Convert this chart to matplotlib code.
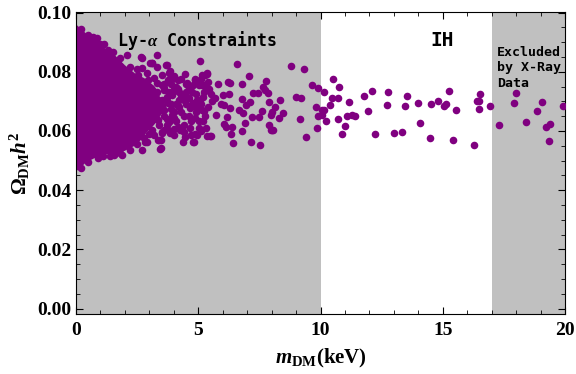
import matplotlib
matplotlib.use("Agg")
import matplotlib.pyplot as plt
from matplotlib.ticker import MultipleLocator

# dense core of the scan (outline of the solid purple region)
core_mass = [0.0, 0.4, 0.8, 1.2, 1.6, 2.0, 2.4, 2.8, 3.2, 3.4, 3.5, 3.4, 3.1,
             2.9, 2.7, 2.4, 2.0, 1.6, 1.2, 0.8, 0.4, 0.1, 0.0]
core_omega = [0.0960, 0.0930, 0.0912, 0.0878, 0.0855, 0.0822, 0.0795, 0.0778,
              0.0752, 0.0728, 0.0680, 0.0640, 0.0612, 0.0596, 0.0573, 0.0550,
              0.0533, 0.0522, 0.0521, 0.0510, 0.0493, 0.0470, 0.0463]

# individual scan points m_DM (keV), Omega h^2
mass = [
    # ragged edge of the core
    0.2, 0.5, 0.7, 1.0, 1.3, 1.5, 1.8, 2.2, 2.5, 2.9,
    0.2, 0.5, 0.9, 1.1, 1.4, 1.8, 2.2, 2.5, 2.8, 3.0,
    # crowded region 3-5.5 keV
    3.2, 3.5, 3.6, 3.9, 4.1, 4.3, 4.6, 4.8, 5.1, 5.4,
    3.3, 3.7, 4.0, 4.3, 4.6, 4.9, 5.2, 5.5,
    3.5, 3.9, 4.2, 4.5, 4.8, 5.1, 5.4,
    3.3, 3.6, 4.0, 4.3, 4.6, 4.9, 5.2,
    3.4, 3.8, 4.1, 4.4, 4.7, 5.1,
    3.2, 3.7, 4.0, 4.4, 4.7, 5.3,
    3.6, 3.8, 4.0, 4.2, 4.5, 3.5, 3.7, 4.1, 4.4, 3.6, 3.9, 4.2, 3.7, 4.0,
    3.3, 3.5, 4.5, 4.9,
    0.86, 1.14, 2.09, 2.70, 2.70, 3.11, 3.80, 3.93, 2.66, 3.10, 3.31, 3.72,
    2.55, 2.96, 3.99, 4.19, 4.88, 5.29, 5.36, 3.76, 3.31, 4.54, 5.01, 3.58,
    4.19, 4.74, 5.22, 3.92, 4.47, 4.95, 3.37, 3.78, 4.19, 4.67, 5.15, 3.51,
    3.92, 4.40, 4.88, 5.29, 3.37, 3.72, 4.19, 4.67, 3.10, 3.51, 3.99, 4.47,
    4.95, 4.81, 3.37, 2.90, 5.36, 1.54, 1.89, 2.70, 2.84, 3.46, 3.46, 3.52,
    4.37, 5.49, 3.03, 3.85, 5.15, 5.08, 5.22, 5.01, 5.01, 4.26, 3.85, 3.58,
    3.33, 5.05, 6.57, 7.06, 3.69, 4.44, 4.85, 5.14, 5.34, 7.76, 6.20, 6.28,
    5.79, 6.77, 5.22, 7.64, 7.72, 5.42, 7.23, 7.43, 7.84, 6.00, 6.24, 6.77,
    5.55, 5.67, 7.10, 7.88, 5.91, 6.04, 6.94, 6.28, 6.65, 7.59, 8.00, 7.96,
    6.82, 5.71, 7.18, 7.47, 6.16, 6.90, 6.04, 6.12, 6.36, 7.88, 7.96, 8.05,
    6.77, 6.32, 5.50, 7.14, 7.51, 6.41, 4.77, 3.41, 3.44, 4.85,
    8.80, 9.32, 9.64, 9.89, 10.50, 10.75, 10.14, 9.00, 9.21, 8.33, 10.46,
    10.71, 11.16, 11.77, 12.10, 12.76, 12.72, 11.94, 10.37, 9.81, 10.05,
    10.14, 9.89, 10.05, 10.22, 10.71, 11.08, 11.28, 11.41, 11.00, 9.85, 9.15,
    10.87, 12.23, 9.40, 8.45, 8.29, 8.13, 8.02,
    13.54, 13.45, 13.99, 14.52, 14.81, 15.05, 15.13, 15.26, 15.55, 16.53,
    16.41, 16.49, 16.49, 16.94, 14.07, 13.00, 13.33, 14.48, 15.42, 16.28,
    17.31, 18.00, 17.92, 19.07, 18.86, 19.93, 18.41, 19.23, 19.39, 19.36,
]
omega = [
    0.0945, 0.0925, 0.0918, 0.0895, 0.0875, 0.0868, 0.0845, 0.0815, 0.0808,
    0.0795,
    0.0475, 0.0495, 0.0508, 0.0515, 0.0515, 0.0525, 0.0535, 0.0555, 0.0575,
    0.0590,
    0.0780, 0.0790, 0.0760, 0.0760, 0.0750, 0.0775, 0.0745, 0.0755, 0.0775,
    0.0765,
    0.0730, 0.0715, 0.0735, 0.0720, 0.0710, 0.0725, 0.0715, 0.0725,
    0.0685, 0.0690, 0.0705, 0.0690, 0.0695, 0.0690, 0.0680,
    0.0660, 0.0650, 0.0665, 0.0665, 0.0650, 0.0665, 0.0635,
    0.0620, 0.0630, 0.0635, 0.0620, 0.0635, 0.0600,
    0.0585, 0.0605, 0.0605, 0.0595, 0.0585, 0.0610,
    0.0745, 0.0730, 0.0750, 0.0730, 0.0730, 0.0705, 0.0700, 0.0690, 0.0705,
    0.0670, 0.0675, 0.0680, 0.0640, 0.0645, 0.0700, 0.0755, 0.0760, 0.0680,
    0.0913, 0.0893, 0.0855, 0.0845, 0.0814, 0.0831, 0.0797, 0.0774, 0.0850,
    0.0830, 0.0816, 0.0823, 0.0790, 0.0773, 0.0784, 0.0771, 0.0773, 0.0790,
    0.0796, 0.0771, 0.0762, 0.0762, 0.0756, 0.0739, 0.0742, 0.0733, 0.0733,
    0.0722, 0.0717, 0.0705, 0.0705, 0.0694, 0.0683, 0.0677, 0.0672, 0.0672,
    0.0655, 0.0649, 0.0643, 0.0649, 0.0638, 0.0621, 0.0615, 0.0610, 0.0604,
    0.0593, 0.0587, 0.0581, 0.0587, 0.0561, 0.0570, 0.0564, 0.0583, 0.0519,
    0.0519, 0.0536, 0.0564, 0.0542, 0.0570, 0.0598, 0.0564, 0.0583, 0.0830,
    0.0801, 0.0755, 0.0704, 0.0666, 0.0632, 0.0610, 0.0604, 0.0593, 0.0604,
    0.0857, 0.0836, 0.0826, 0.0786, 0.0823, 0.0792, 0.0776, 0.0789, 0.0792,
    0.0769, 0.0765, 0.0762, 0.0759, 0.0759, 0.0755, 0.0748, 0.0738, 0.0742,
    0.0728, 0.0728, 0.0728, 0.0721, 0.0725, 0.0708, 0.0701, 0.0711, 0.0698,
    0.0698, 0.0691, 0.0687, 0.0687, 0.0677, 0.0671, 0.0667, 0.0664, 0.0654,
    0.0660, 0.0654, 0.0647, 0.0647, 0.0647, 0.0626, 0.0623, 0.0613, 0.0613,
    0.0620, 0.0603, 0.0603, 0.0599, 0.0589, 0.0582, 0.0562, 0.0552, 0.0559,
    0.0562, 0.0569, 0.0538, 0.0589,
    0.0819, 0.0809, 0.0755, 0.0745, 0.0775, 0.0748, 0.0731, 0.0714, 0.0711,
    0.0704, 0.0711, 0.0711, 0.0698, 0.0718, 0.0735, 0.0731, 0.0687, 0.0667,
    0.0687, 0.0681, 0.0671, 0.0671, 0.0650, 0.0654, 0.0633, 0.0640, 0.0650,
    0.0654, 0.0650, 0.0616, 0.0610, 0.0640, 0.0589, 0.0589, 0.0579, 0.0660,
    0.0643, 0.0681, 0.0603,
    0.0718, 0.0684, 0.0694, 0.0691, 0.0701, 0.0684, 0.0691, 0.0735, 0.0671,
    0.0725, 0.0701, 0.0701, 0.0674, 0.0684, 0.0626, 0.0593, 0.0596, 0.0576,
    0.0569, 0.0552, 0.0620, 0.0728, 0.0694, 0.0698, 0.0667, 0.0684, 0.0630,
    0.0613, 0.0623, 0.0566,
]

# shaded exclusion bands (keV)
lya_band = (0, 10)
xray_band = (17, 20)

purple = "#800080"
grey = "#c0c0c0"

plt.rcParams["mathtext.fontset"] = "custom"
plt.rcParams["mathtext.rm"] = "Liberation Serif:bold"
plt.rcParams["mathtext.it"] = "Liberation Serif:italic:bold"
plt.rcParams["mathtext.bf"] = "Liberation Serif:bold"

fig = plt.figure(figsize=(5.76, 3.74), dpi=100)
ax = fig.add_axes([0.132, 0.160, 0.849, 0.808])

ax.axvspan(*lya_band, color=grey, lw=0, zorder=0)
ax.axvspan(*xray_band, color=grey, lw=0, zorder=0)

ax.fill(core_mass, core_omega, color=purple, lw=0, zorder=2)
ax.scatter(mass, omega, s=30, color=purple, lw=0, zorder=3)

ax.text(4.94, 0.0905, r"Ly-$\alpha$ Constraints", family="DejaVu Sans Mono",
        fontsize=12, fontweight="bold", ha="center", va="center", zorder=5)
ax.text(14.98, 0.0905, "IH", family="DejaVu Sans Mono", fontsize=14,
        fontweight="bold", ha="center", va="center", zorder=5)
ax.text(17.22, 0.0888, "Excluded\nby X-Ray\nData", family="DejaVu Sans Mono",
        fontsize=9.5, fontweight="bold", ha="left", va="top",
        linespacing=1.25, zorder=5)

ax.set_xlim(0, 20)
ax.set_ylim(-0.0019, 0.1002)
ax.xaxis.set_major_locator(MultipleLocator(5))
ax.xaxis.set_minor_locator(MultipleLocator(1))
ax.yaxis.set_major_locator(MultipleLocator(0.02))
ax.yaxis.set_minor_locator(MultipleLocator(0.005))
ax.yaxis.set_major_formatter(plt.FuncFormatter(lambda v, p: "%.2f" % v))
ax.tick_params(which="both", direction="in", top=True, right=True)
ax.tick_params(which="major", length=5, width=0.8)
ax.tick_params(which="minor", length=3, width=0.6)
for lab in ax.get_xticklabels() + ax.get_yticklabels():
    lab.set_family("Liberation Serif")
    lab.set_fontweight("bold")
    lab.set_fontsize(14)
ax.tick_params(axis="x", pad=6)
ax.tick_params(axis="y", pad=3)

ax.set_xlabel(r"$m_{\rm DM}$(keV)", family="Liberation Serif",
              fontweight="bold", fontsize=15)
ax.set_ylabel(r"$\Omega_{\rm DM}h^2$", fontsize=15)
ax.xaxis.set_label_coords(0.5, -0.11)
ax.yaxis.set_label_coords(-0.09, 0.5)

fig.savefig("out.png", dpi=100)
